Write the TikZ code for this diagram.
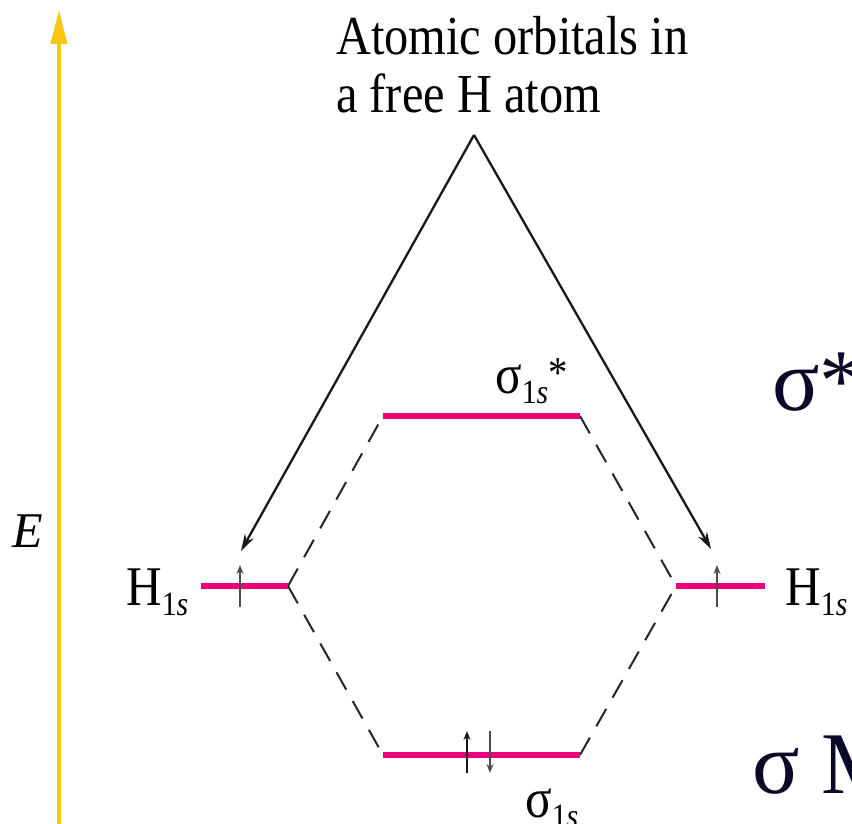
\documentclass[tikz,border=0pt]{standalone}
\usepackage{fontspec}
\setmainfont{Liberation Serif}
\usetikzlibrary{arrows.meta}
\definecolor{pinkline}{RGB}{236,0,122}
\definecolor{goldarrow}{RGB}{250,198,20}
\definecolor{bigsig}{RGB}{10,10,40}
\newcommand{\mysub}[1]{\raisebox{-10pt}{\fontsize{34}{34}\selectfont #1}}
\newcommand{\cnd}[1]{\scalebox{0.88}[1]{#1}}
\begin{document}
\begin{tikzpicture}[x=1pt,y=-1pt,
  level/.style={draw=pinkline, line width=6pt},
  conn/.style={dash pattern=on 20pt off 13pt, line width=2pt, black!85},
  pointer/.style={-{Stealth[length=17pt,width=10pt]}, line width=2.3pt, black!90},
  spin/.style={-{Stealth[length=9pt,width=7pt]}, line width=2pt, black!70},
  lbl/.style={font=\fontsize{56}{58}\selectfont, inner sep=0pt, anchor=base west},
  big/.style={font=\fontsize{88}{90}\selectfont, inner sep=0pt, anchor=base west, text=bigsig}]
\useasboundingbox (0,0) rectangle (852,824);
\clip (0,0) rectangle (852,824);
\fill[white] (0,0) rectangle (852,824);
% energy axis
\coordinate (Ebot) at (59,830);
\coordinate (Etop) at (59,10);
\draw[goldarrow, line width=4pt, -{Triangle[length=34pt,width=16pt]}] (Ebot) -- (Etop);
\node[font=\fontsize{50}{50}\selectfont\itshape, inner sep=0pt] (E) at (28,531) {E};
% title
\node[lbl, align=left, font=\fontsize{55}{58}\selectfont] (title) at (336,113)
  {\cnd{Atomic orbitals in}\\\cnd{a free H atom}};
\coordinate (apex) at (474,135);
% level end points
\coordinate (HLa) at (201,586); \coordinate (HLb) at (288,586);
\coordinate (HRa) at (676,586); \coordinate (HRb) at (765,586);
\coordinate (SSa) at (383,416); \coordinate (SSb) at (580,416);
\coordinate (SBa) at (383,755); \coordinate (SBb) at (580,755);
% dashed correlation lines
\draw[conn] (HLb) -- (SSa);
\draw[conn] (HLb) -- (SBa);
\draw[conn] (SSb) -- (HRa);
\draw[conn] (SBb) -- (HRa);
% levels
\draw[level] (HLa) -- (HLb);
\draw[level] (HRa) -- (HRb);
\draw[level] (SSa) -- (SSb);
\draw[level] (SBa) -- (SBb);
% pointers
\coordinate (tipL) at (241,551);
\coordinate (tipR) at (711,549);
\draw[pointer] (apex) -- (tipL);
\draw[pointer] (apex) -- (tipR);
% spins
\coordinate (sL1) at (240,607); \coordinate (sL2) at (240,565);
\coordinate (sR1) at (717,607); \coordinate (sR2) at (717,565);
\coordinate (bU1) at (467,773); \coordinate (bU2) at (467,731);
\coordinate (bD1) at (490,731); \coordinate (bD2) at (490,773);
\draw[spin] (sL1) -- (sL2);
\draw[spin] (sR1) -- (sR2);
\draw[spin, black!90] (bU1) -- (bU2);
\draw[spin] (bD1) -- (bD2);
% labels
\node[lbl] (HL) at (126,605) {\cnd{H\mysub{1\textit{s}}}};
\node[lbl] (HR) at (785,605) {\cnd{H\mysub{1\textit{s}}}};
\node[lbl] (sstar) at (495,393) {\cnd{σ\mysub{1\textit{s}}\raisebox{6pt}{\fontsize{44}{44}\selectfont *}}};
\node[lbl] (sbond) at (525,817) {\cnd{σ\mysub{1\textit{s}}}};
\node[big] (bigstar) at (772,410) {σ*};
\node[big] (bigmo) at (752,793) {σ M};
\end{tikzpicture}
\end{document}
